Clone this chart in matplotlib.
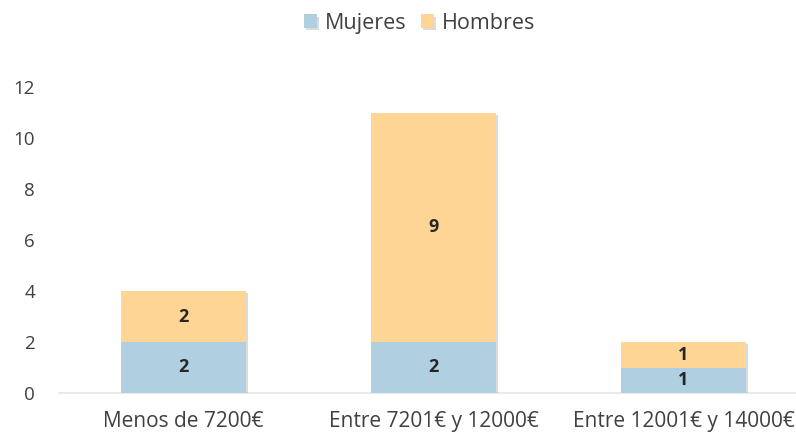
import numpy as np
import matplotlib
matplotlib.use('Agg')
import matplotlib.pyplot as plt
import matplotlib.patheffects as pe

# datos del grafico
categorias = ['Menos de 7200€', 'Entre 7201€ y 12000€', 'Entre 12001€ y 14000€']
mujeres = [2, 2, 1]
hombres = [2, 9, 1]

c_muj = '#b0cfe1'
c_hom = '#fed595'
gris = '#404040'

plt.rcParams['font.family'] = ['Open Sans', 'DejaVu Sans']

fig = plt.figure(figsize=(7.96, 4.32), dpi=100)
ax = fig.add_axes([58.5/796, 39/432, 750/796, 306/432])

x = np.arange(len(categorias))
sombra = [pe.SimplePatchShadow(offset=(1.5, -1.5), shadow_rgbFace='#888888', alpha=0.3), pe.Normal()]
# mujeres encima en zorder para tapar la sombra de los hombres
b1 = ax.bar(x, mujeres, width=0.5, color=c_muj, label='Mujeres', path_effects=sombra, zorder=3)
b2 = ax.bar(x, hombres, width=0.5, bottom=mujeres, color=c_hom, label='Hombres', path_effects=sombra, zorder=2)

# etiquetas de valores
for i in range(len(x)):
    ax.text(x[i], mujeres[i]/2, str(mujeres[i]), ha='center', va='center',
            fontsize=13, fontweight='bold', color='#262626', zorder=4)
    ax.text(x[i], mujeres[i] + hombres[i]/2, str(hombres[i]), ha='center', va='center',
            fontsize=13, fontweight='bold', color='#262626', zorder=4)

ax.set_xlim(-0.5, 2.5)
ax.set_ylim(0, 12)
ax.set_yticks(range(0, 13, 2))
ax.set_xticks(x)
ax.set_xticklabels(categorias, fontsize=15, color=gris)
ax.tick_params(axis='y', labelsize=13.5, labelcolor=gris, length=0, pad=17)
ax.tick_params(axis='x', length=0, pad=13)
for s in ['top', 'right', 'left']:
    ax.spines[s].set_visible(False)
ax.spines['bottom'].set_color('#e6e6e6')
ax.spines['bottom'].set_linewidth(1.2)

fig.legend(handles=[b1, b2], labels=['Mujeres', 'Hombres'], loc='upper center',
           bbox_to_anchor=(0.527, 1.015), ncol=2, frameon=False, fontsize=15.5,
           labelcolor=gris, handlelength=0.6, handleheight=0.6, handletextpad=0.35,
           columnspacing=0.7)

fig.savefig('out.png', dpi=100)
